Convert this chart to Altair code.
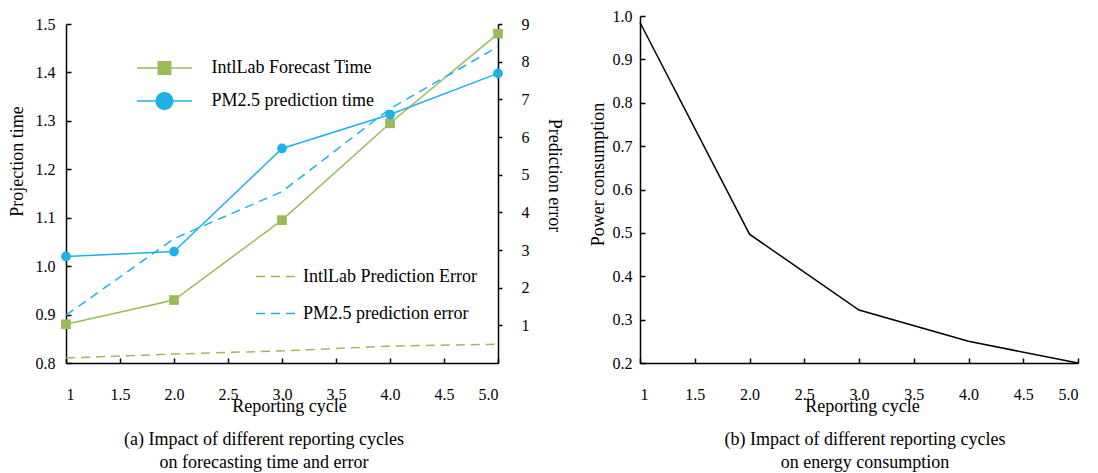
import altair as alt
import pandas as pd

# ---------------- data ----------------
cycles = [1, 2, 3, 4, 5]
intl_time = [0.88, 0.93, 1.095, 1.295, 1.48]
pm_time = [1.02, 1.03, 1.243, 1.313, 1.398]
intl_err = [0.13, 0.24, 0.32, 0.45, 0.50]
pm_err = [1.27, 3.3, 4.55, 6.75, 8.4]
power = [0.985, 0.497, 0.322, 0.25, 0.2]

time_names = ["IntlLab Forecast Time", "PM2.5 prediction time"]
err_names = ["IntlLab Prediction Error", "PM2.5 prediction error"]
x_ticks = [1, 1.5, 2, 2.5, 3, 3.5, 4, 4.5, 5]
left_ticks = [0.8, 0.9, 1.0, 1.1, 1.2, 1.3, 1.4, 1.5]
right_ticks = [1, 2, 3, 4, 5, 6, 7, 8, 9]
power_ticks = [0.2, 0.3, 0.4, 0.5, 0.6, 0.7, 0.8, 0.9, 1.0]

GREEN = "#9bbb59"
BLUE = "#1eb1e9"
FONT = "Liberation Serif"

time_df = pd.DataFrame({
    "cycle": cycles * 2,
    "value": intl_time + pm_time,
    "series": [time_names[0]] * 5 + [time_names[1]] * 5,
})
err_df = pd.DataFrame({
    "cycle": cycles * 2,
    "value": intl_err + pm_err,
    "eseries": [err_names[0]] * 5 + [err_names[1]] * 5,
})
power_df = pd.DataFrame({"cycle": cycles, "power": power})

x_label_expr = "datum.value == 1 ? '1' : format(datum.value, '.1f')"


def x_axis(title_x):
    return alt.Axis(
        values=x_ticks, labelExpr=x_label_expr, title="Reporting cycle",
        tickSize={"expr": "-5"}, labelPadding=28, grid=False,
        titleY=43, titleBaseline="middle", titleX=title_x,
    )


xenc_left = alt.X("cycle:Q", scale=alt.Scale(domain=[1, 5], nice=False, zero=False),
                  axis=x_axis(223))

# ---------- legends ----------
sq_path = "M-3.93,-0.11 H3.93 V0.11 H-3.93 Z M-1,-1 H1 V1 H-1 Z"
ci_path = ("M-3.93,-0.11 H3.93 V0.11 H-3.93 Z "
           "M-1.29,0 A1.29,1.29 0 1,1 1.29,0 A1.29,1.29 0 1,1 -1.29,0 Z")
shape_sig = (f"datum.value == '{time_names[0]}' ? '{sq_path}' : '{ci_path}'")

legend_time = alt.Legend(
    title=None, orient="none", legendX=40.5, legendY=-14, padding=49,
    symbolSize=196, symbolType={"expr": shape_sig}, symbolStrokeWidth=0,
    symbolOpacity=1,
    labelFont=FONT, labelFontSize=18, labelColor="black",
    labelOffset=38, rowPadding=14, labelLimit=400,
)

legend_err = alt.Legend(
    title=None, orient="none", legendX=189, legendY=230, padding=0,
    symbolSize=1849, symbolType="stroke", symbolStrokeWidth=1.5,
    labelFont=FONT, labelFontSize=18, labelColor="black",
    labelOffset=3, rowPadding=5, labelLimit=400,
)

left_y = alt.Y("value:Q", scale=alt.Scale(domain=[0.8, 1.5], nice=False, zero=False),
               axis=alt.Axis(values=left_ticks, format=".1f", title="Projection time",
                             tickSize={"expr": "-5"}, labelPadding=16, grid=False,
                             titleY=137, titlePadding=9))

time_line = alt.Chart(time_df).mark_line(strokeWidth=1.5).encode(
    x=xenc_left, y=left_y,
    color=alt.Color("series:N", scale=alt.Scale(domain=time_names, range=[GREEN, BLUE]),
                    legend=None),
)
time_pts = alt.Chart(time_df).mark_point(filled=True, opacity=1, size=95).encode(
    x=xenc_left, y=left_y,
    color=alt.Color("series:N", scale=alt.Scale(domain=time_names, range=[GREEN, BLUE]),
                    legend=legend_time),
    shape=alt.Shape("series:N",
                    scale=alt.Scale(domain=time_names[::-1], range=["circle", "square"]),
                    legend=None),
)
layer_time = alt.layer(time_line, time_pts).resolve_legend(color="independent",
                                                           shape="independent")

err_scale_c = alt.Scale(domain=err_names, range=[GREEN, BLUE])
err_scale_d = alt.Scale(domain=err_names, range=[[9, 6], [9, 6]])
err_line = alt.Chart(err_df).mark_line(strokeWidth=1.5).encode(
    x=xenc_left,
    y=alt.Y("value:Q", scale=alt.Scale(domain=[0, 9], nice=False, zero=False),
            axis=alt.Axis(orient="right", values=right_ticks, format="d",
                          title="Prediction error", tickSize=4, labelPadding=19,
                          grid=False, titleY=151, titlePadding=15)),
    color=alt.Color("eseries:N", scale=err_scale_c, legend=legend_err),
    strokeDash=alt.StrokeDash("eseries:N", scale=err_scale_d, legend=legend_err),
)

left = alt.layer(layer_time, err_line).resolve_scale(
    y="independent", color="independent", strokeDash="independent"
).properties(
    width=432, height=339,
    title=alt.TitleParams(
        ["(a) Impact of different reporting cycles", "on forecasting time and error"],
        orient="bottom", fontSize=18, font=FONT, fontWeight="normal", lineHeight=23,
        offset=16, color="black", dx=-18,
    ),
)

right = alt.Chart(power_df).mark_line(color="black", strokeWidth=1.5).encode(
    x=alt.X("cycle:Q", scale=alt.Scale(domain=[1, 5], nice=False, zero=False), axis=x_axis(222)),
    y=alt.Y("power:Q", scale=alt.Scale(domain=[0.2, 1.0], nice=False, zero=False),
            axis=alt.Axis(values=power_ticks, format=".1f", title="Power consumption",
                          tickSize={"expr": "-5"}, labelPadding=13, grid=False,
                          titleY=158, titlePadding=5)),
).properties(
    width=438, height=347,
    title=alt.TitleParams(
        ["(b) Impact of different reporting cycles", "on energy consumption"],
        orient="bottom", fontSize=18, font=FONT, fontWeight="normal", lineHeight=23,
        offset=16, color="black", dx=6,
        subtitle=" ", subtitleFontSize=2, subtitlePadding=6,
    ),
)

chart = alt.hconcat(left, right, spacing=27, center=True).configure(
    font=FONT, padding={"left": 0, "top": 0, "right": 0, "bottom": 0},
).configure_view(stroke=None).configure_axis(
    labelFont=FONT, titleFont=FONT, labelFontSize=16, titleFontSize=18,
    titleFontWeight="normal", labelColor="black", titleColor="black",
    domainColor="black", tickColor="black", domainWidth=1.5, tickWidth=1.5,
    labelAngle=0,
)

chart.save("out.html", embed_options={"renderer": "svg", "actions": False})
